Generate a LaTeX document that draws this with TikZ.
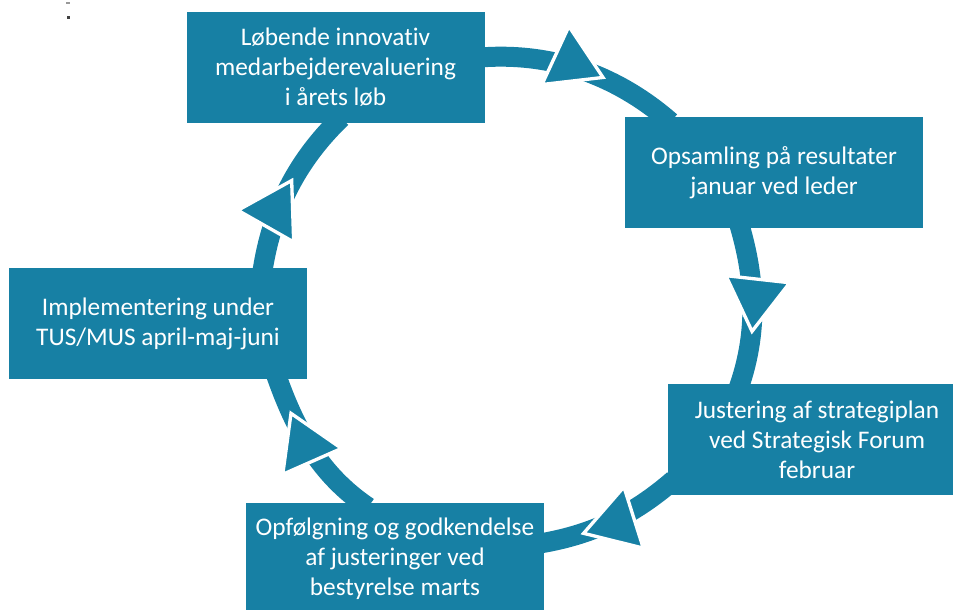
\documentclass[tikz,border=0pt]{standalone}
\usepackage{fontspec}
\setmainfont{Carlito}[Ligatures=NoCommon]
\usetikzlibrary{arrows.meta,decorations.markings,backgrounds}
\definecolor{cyclecol}{HTML}{1780A4}
\tikzstyle{stage}=[rectangle,fill=cyclecol,text=white,minimum width=223.5pt,minimum height=83.25pt,inner sep=0pt,align=center,font=\fontsize{19}{22.5}\selectfont]
\tikzstyle{ring}=[draw=cyclecol,line width=15pt,looseness=0.88,shorten <=-6pt,shorten >=-6pt]
\tikzset{flow/.style={postaction={decorate,decoration={markings,
  mark=at position #1 with {\arrow{Triangle[width=52pt,length=43pt,line width=2.5pt,color=white,fill=cyclecol]}}}}}}

\begin{document}
\begin{tikzpicture}[x=0.75pt,y=0.75pt]
  \useasboundingbox (0,0) rectangle (953,610);

  \foreach \name/\x/\y/\lbl in {1/335.5/542.5/{Løbende innovativ\\medarbejderevaluering\\i årets løb},
      2/774/437.5/{Opsamling på resultater\\januar ved leder},
      3/817/170.5/{Justering af strategiplan\\ved Strategisk Forum\\februar},
      4/395/51.5/{Opfølgning og godkendelse\\af justeringer ved\\bestyrelse marts},
      5/158/286.5/{Implementering under\\TUS/MUS april-maj-juni}}
    \node[stage] (S-\name) at (\x,\y) {\lbl};

  \begin{scope}[on background layer]
    \draw[ring,flow=0.64] (S-1.4) to[out=5,in=139] (S-2.153);
    \draw[ring,flow=0.68] (S-2.239) to[out=-73,in=70] (S-3.144);
    \draw[ring,flow=0.73] (S-3.197) to[out=-139,in=9] (S-4.6);
    \draw[ring,flow=0.78] (S-4.121) to[out=146,in=-71] (S-5.335);
    \draw[ring,flow=0.58] (S-5.28) to[out=82,in=224] (S-1.south);
  \end{scope}

  % stray marks top left
  \fill[black!40] (66,606) rectangle (70,607.5);
  \fill[black!75] (66.5,590.5) rectangle (69.5,593.5);
\end{tikzpicture}
\end{document}
